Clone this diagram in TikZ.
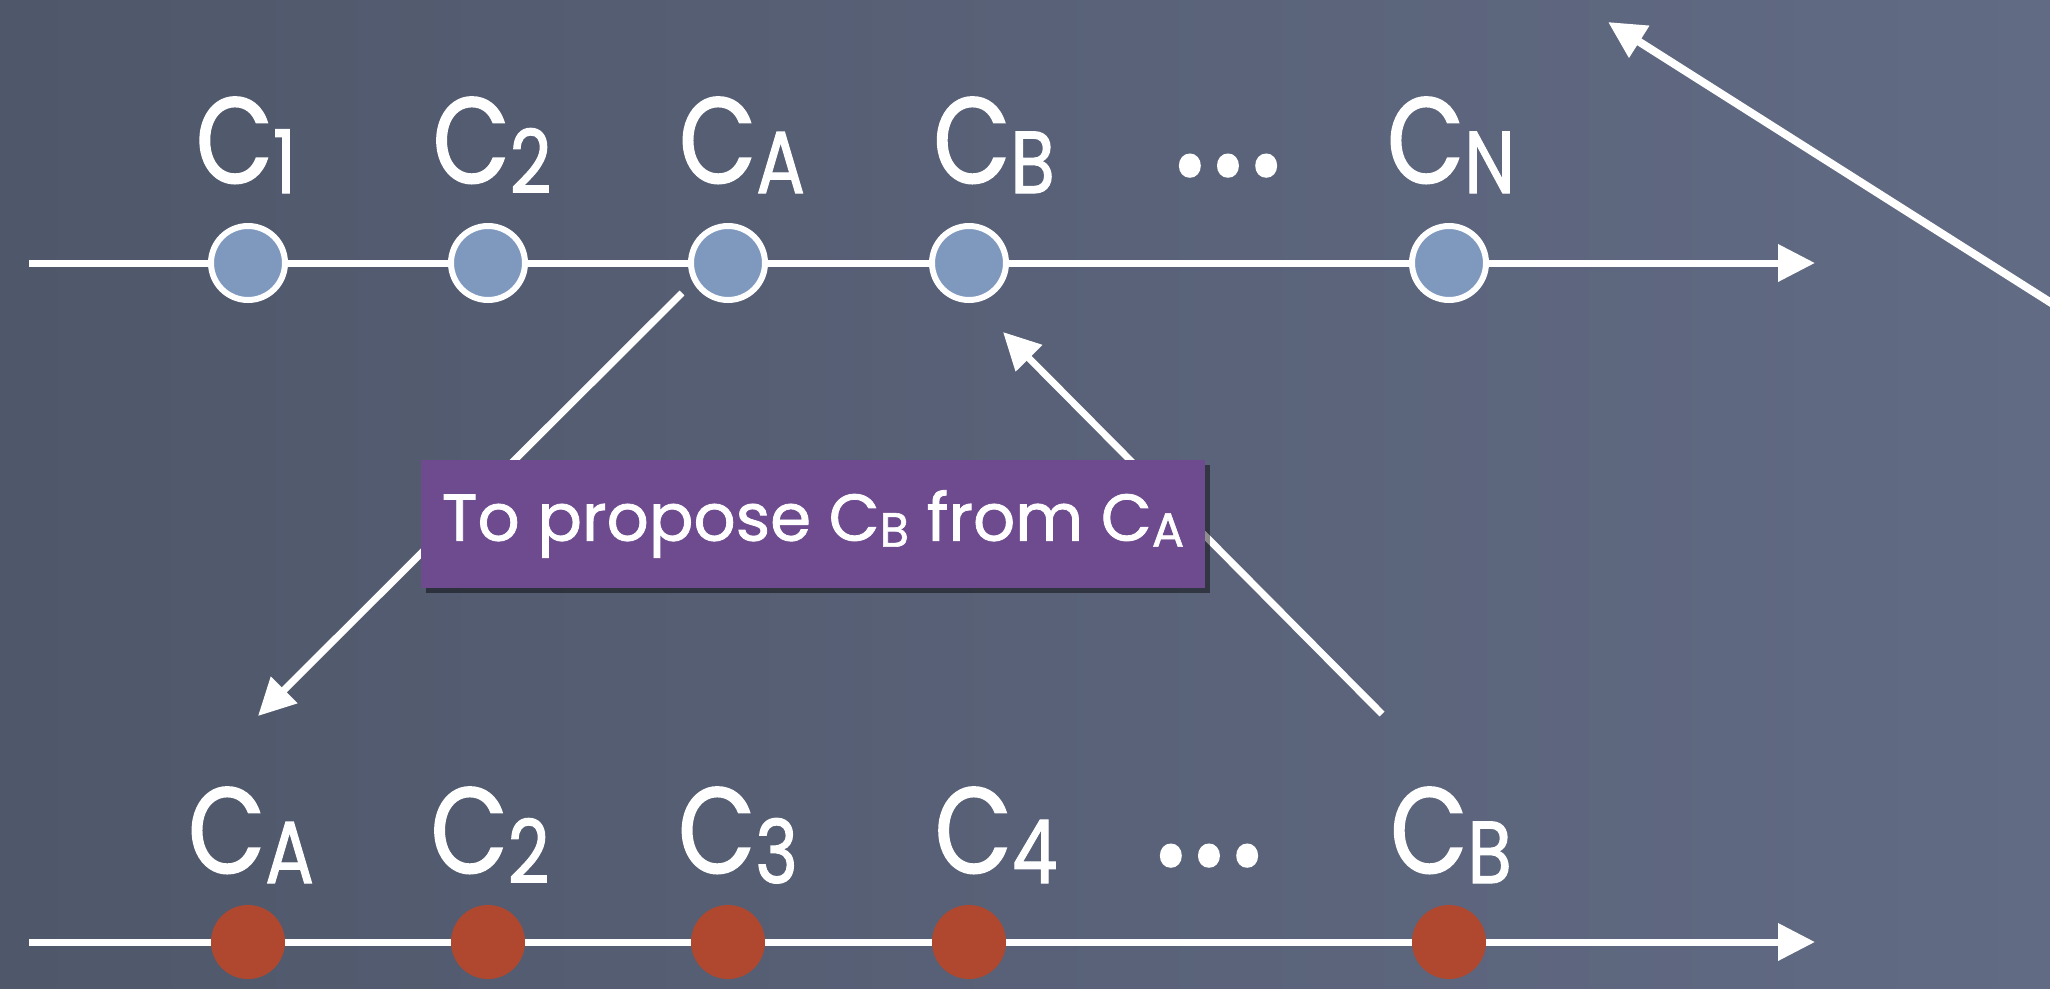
\documentclass[tikz,border=0pt]{standalone}
\usepackage{fontspec}
\setmainfont{Poppins}
\newfontfamily\chalk{Poppins}[FakeBold=1.3, FakeStretch=0.82]
\newfontfamily\chalkw{Poppins}[FakeBold=1.2]
\usetikzlibrary{arrows.meta,shadows}
\definecolor{bgL}{HTML}{4F576A}
\definecolor{bgR}{HTML}{616B84}
\definecolor{dotblue}{HTML}{7F98BE}
\definecolor{dotred}{HTML}{B0482F}
\definecolor{boxpurple}{HTML}{6E4B8F}
\newcommand\clab[1]{C\raisebox{-10pt}{\fontsize{88}{88}\selectfont #1}}
\newcommand\csmall[1]{C\raisebox{-6pt}{\fontsize{48}{48}\selectfont #1}}
\newcommand\bigdots{{\bfseries .\hspace{10pt}.\hspace{10pt}.}}
\begin{document}
\begin{tikzpicture}[x=1pt,y=-1pt,
  arr/.style={white, line width=7pt, -{Triangle[length=37pt,width=36pt]}},
  bluedot/.style={circle, fill=dotblue, draw=white, line width=6pt, minimum size=74pt, inner sep=0pt},
  reddot/.style={circle, fill=dotred, minimum size=74pt, inner sep=0pt},
  lab/.style={text=white, anchor=base, font=\chalk\fontsize{122}{126}\selectfont, inner sep=0pt},
  note/.style={fill=boxpurple, text=white, minimum width=784pt, minimum height=128pt, inner sep=0pt,
    font=\chalkw\fontsize{66}{70}\selectfont,
    drop shadow={shadow xshift=5pt, shadow yshift=-5pt, opacity=0.45, fill=black}}
]
\useasboundingbox (0,0) rectangle (2050,988);
\shade[left color=bgL, right color=bgR] (0,0) rectangle (2050,988);

% axes
\coordinate (ts) at (29,263);
\coordinate (te) at (1815,263);
\coordinate (bs) at (29,942);
\coordinate (be) at (1815,942);
\draw[arr] (ts) -- (te);
\draw[arr] (bs) -- (be);

% top row
\node[bluedot] (t1) at (248,263) {};
\node[bluedot] (t2) at (488,263) {};
\node[bluedot] (tA) at (728,263) {};
\node[bluedot] (tB) at (969,263) {};
\node[bluedot] (tN) at (1449,263) {};

\node[lab] (lt1) at (246,183) {\clab{1}};
\node[lab] (lt2) at (492,183) {\clab{2}};
\node[lab] (ltA) at (742,183) {\clab{A}};
\node[lab] (ltB) at (994,183) {\clab{B}};
\node[lab] (ltd) at (1228,176) {\bigdots};
\node[lab] (ltN) at (1451,183) {\clab{N}};

% bottom row
\node[reddot] (b1) at (248,942) {};
\node[reddot] (b2) at (488,942) {};
\node[reddot] (b3) at (728,942) {};
\node[reddot] (b4) at (969,942) {};
\node[reddot] (bB) at (1449,942) {};

\node[lab] (lbA) at (251,873) {\clab{A}};
\node[lab] (lb2) at (490,873) {\clab{2}};
\node[lab] (lb3) at (738,873) {\clab{3}};
\node[lab] (lb4) at (996,873) {\clab{4}};
\node[lab] (lbd) at (1209,866) {\bigdots};
\node[lab] (lbB) at (1451,873) {\clab{B}};

% connectors
\coordinate (a1s) at (682,293);
\coordinate (a1e) at (258,716);
\coordinate (a2s) at (1382,714);
\coordinate (a2e) at (1003,332);
\coordinate (a3s) at (2075,318);
\coordinate (a3e) at (1608,22);
\draw[arr] (a1s) -- (a1e);
\draw[arr] (a2s) -- (a2e);
\draw[arr, line width=8pt] (a3s) -- (a3e);

% note
\node[note] (note) at (813,524) {To propose \csmall{B} from \csmall{A}};
\end{tikzpicture}
\end{document}
